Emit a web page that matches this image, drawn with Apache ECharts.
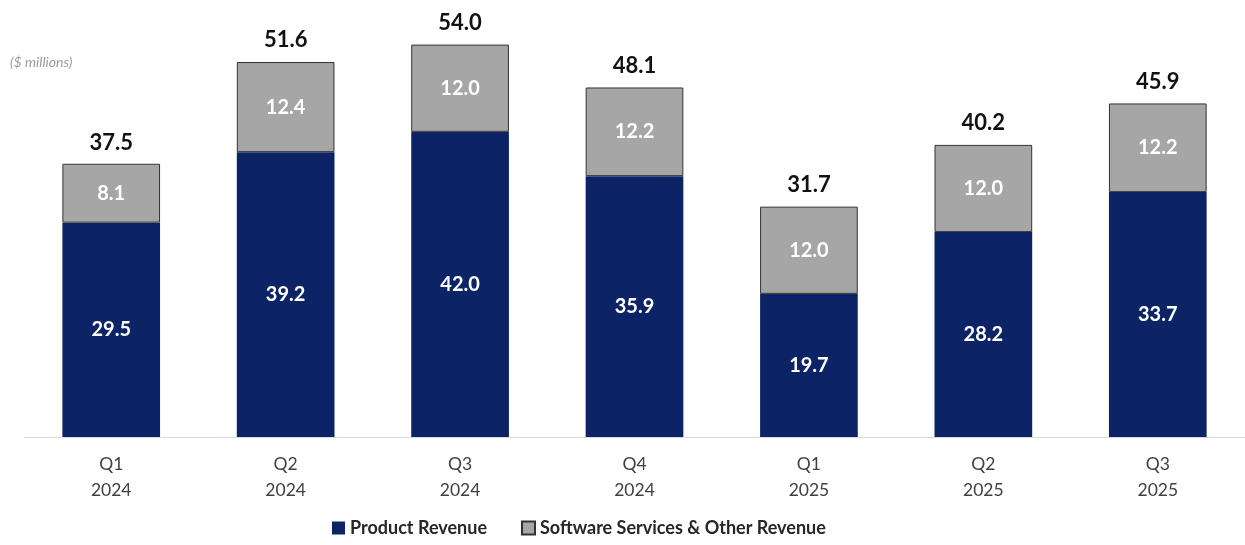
<!DOCTYPE html>
<html><head><meta charset="utf-8">
<script src="https://cdn.jsdelivr.net/npm/echarts@6/dist/echarts.min.js"></script>
<style>html,body{margin:0;padding:0;background:#fff}#c{width:1245px;height:545px}</style>
</head><body><div id="c"></div>
<script>
const categories = ['Q1\n2024','Q2\n2024','Q3\n2024','Q4\n2024','Q1\n2025','Q2\n2025','Q3\n2025'];
const productRevenue = [29.5, 39.2, 42.0, 35.9, 19.7, 28.2, 33.7];
const softwareRevenue = [8.1, 12.4, 12.0, 12.2, 12.0, 12.0, 12.2];
const totalRevenue = [37.5, 51.6, 54.0, 48.1, 31.7, 40.2, 45.9];

const FONT = 'Lato, "Open Sans", sans-serif';
const chart = echarts.init(document.getElementById('c'), null, {renderer:'canvas'});
chart.setOption({
  animation:false,
  textStyle:{fontFamily:FONT},
  graphic:[{type:'text', left:10, top:55, style:{text:'($ millions)', font:'italic 14px '+FONT, fill:'#9a9a9a'}}],
  legend:{
    data:['Product Revenue','Software Services & Other Revenue'],
    bottom:3, left:327, itemWidth:13, itemHeight:13, itemGap:34, icon:'rect',
    textStyle:{fontFamily:FONT, fontSize:18, fontWeight:'bold', color:'#262626'}
  },
  grid:{left:24, right:-2, top:1, bottom:108},
  xAxis:{
    type:'category', data:categories,
    axisLine:{lineStyle:{color:'#d9d9d9', width:1}},
    axisTick:{show:false},
    axisLabel:{fontFamily:FONT, fontSize:17.5, color:'#404040', lineHeight:26, margin:14}
  },
  yAxis:{type:'value', min:0, max:60, show:false, splitLine:{show:false}},
  series:[
    {name:'Product Revenue', type:'bar', stack:'rev', data:productRevenue, barWidth:'56%',
     itemStyle:{color:'#0c2366'},
     label:{show:true, position:'inside', color:'#fff', fontSize:20, fontWeight:'bold', fontFamily:FONT, formatter:p=>p.value.toFixed(1)}},
    {name:'Software Services & Other Revenue', type:'bar', stack:'rev', data:softwareRevenue, barWidth:'56%',
     itemStyle:{color:'#a6a6a6', borderColor:'#333', borderWidth:1},
     label:{show:true, position:'inside', color:'#fff', fontSize:20, fontWeight:'bold', fontFamily:FONT, formatter:p=>p.value.toFixed(1)}},
    {name:'Total', type:'bar', data:totalRevenue, barWidth:'56%', barGap:'-100%', z:0,
     itemStyle:{color:'rgba(0,0,0,0)'}, silent:true,
     label:{show:true, position:'top', distance:11, color:'#111', fontSize:22, fontWeight:'bold', fontFamily:FONT, formatter:p=>p.value.toFixed(1)}}
  ]
});
</script></body></html>
